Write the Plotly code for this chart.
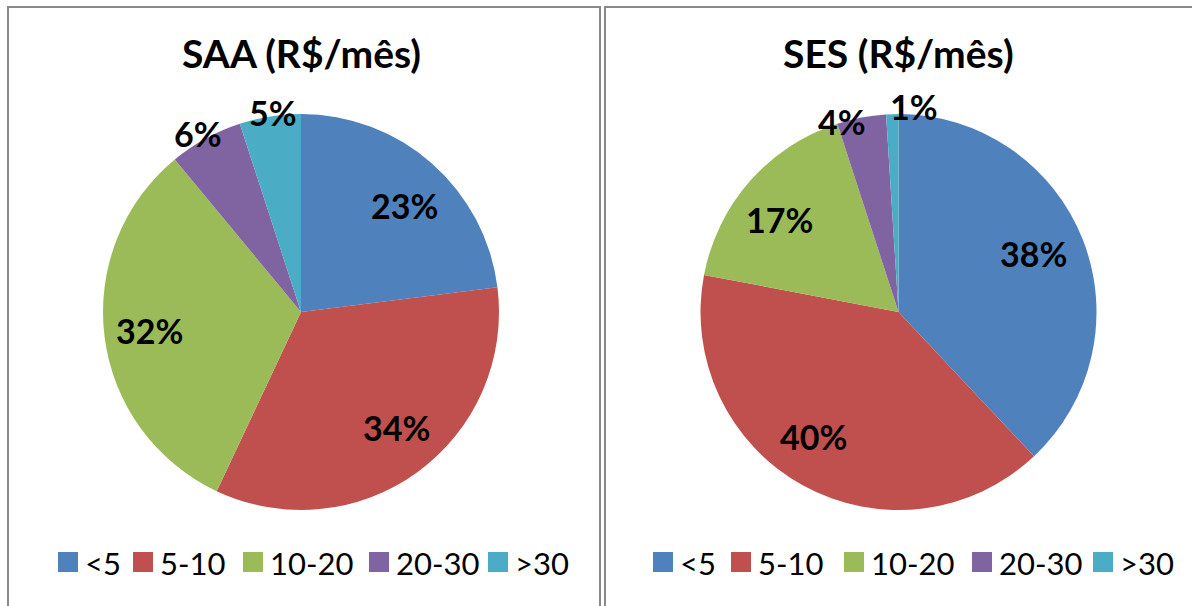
import math
import plotly.graph_objects as go

# Monthly spend brackets (R$/mês) and share of households per bracket
categories = ["<5", "5-10", "10-20", "20-30", ">30"]
saa_share = [23, 34, 32, 6, 5]
ses_share = [38, 40, 17, 4, 1]
panel_titles = ["SAA (R$/mês)", "SES (R$/mês)"]

colors = ["#4F81BD", "#C0504D", "#9BBB59", "#8064A2", "#4BACC6"]

W, H = 1192, 606
FONT = "Lato"


def px(x):
    return x / W


def py(y):
    return 1 - y / H


# panel geometry in pixels: pie centre, radius, frame extents
panels = [
    dict(values=saa_share, title=panel_titles[0], cx=301, cy=312, r=198,
         frame=(8, 7, 600, 620), legend_x=58,
         nudge=[(5, 5), (8, -5), (-4, 0), (-4, 2), (4, 4)]),
    dict(values=ses_share, title=panel_titles[1], cx=898.5, cy=312, r=198,
         frame=(605, 7, 1205, 620), legend_x=653,
         nudge=[(-3, -4), (-13, -6), (-8, 6), (-18, 12), (22, 0)]),
]

# legend item offsets from the first swatch, per panel
legend_offsets = [[0, 75, 185, 311, 430], [0, 78, 191, 319, 440]]
SWATCH = 20
LEGEND_Y = 562

fig = go.Figure()
shapes = []
annotations = []

for i, p in enumerate(panels):
    cx, cy, r = p["cx"], p["cy"], p["r"]
    fig.add_trace(go.Pie(
        labels=categories,
        values=p["values"],
        sort=False,
        direction="clockwise",
        rotation=0,
        textinfo="none",
        hoverinfo="label+percent",
        marker=dict(colors=colors, line=dict(width=0)),
        domain=dict(x=[px(cx - r), px(cx + r)], y=[py(cy + r), py(cy - r)]),
        showlegend=False,
    ))

    # frame around each chart
    x0, y0, x1, y1 = p["frame"]
    shapes.append(dict(type="rect", xref="paper", yref="paper",
                       x0=px(x0), y0=py(y1), x1=px(x1), y1=py(y0),
                       line=dict(color="#898989", width=2), fillcolor="rgba(0,0,0,0)"))

    # title
    annotations.append(dict(text=f"<b>{p['title']}</b>", xref="paper", yref="paper",
                            x=px(cx), y=py(53), showarrow=False,
                            xanchor="center", yanchor="middle",
                            font=dict(family=FONT, size=39, color="#000000")))

    # percentage labels placed along each slice's bisector
    total = sum(p["values"])
    cum = 0
    for k, v in enumerate(p["values"]):
        mid = (cum + v / 2) / total * 2 * math.pi
        cum += v
        rf = 0.75 if v / total >= 0.10 else 1.04
        lx = cx + rf * r * math.sin(mid) + p["nudge"][k][0]
        ly = cy - rf * r * math.cos(mid) + p["nudge"][k][1]
        annotations.append(dict(text=f"<b>{round(v / total * 100)}%</b>",
                                xref="paper", yref="paper", x=px(lx), y=py(ly),
                                showarrow=False, xanchor="center", yanchor="middle",
                                font=dict(family=FONT, size=34, color="#000000")))

    # legend: colour swatch + category text
    for k, cat in enumerate(categories):
        sx = p["legend_x"] + legend_offsets[i][k]
        shapes.append(dict(type="rect", xref="paper", yref="paper",
                           x0=px(sx), x1=px(sx + SWATCH),
                           y0=py(LEGEND_Y + SWATCH / 2), y1=py(LEGEND_Y - SWATCH / 2),
                           line=dict(width=0), fillcolor=colors[k]))
        annotations.append(dict(text=cat, xref="paper", yref="paper",
                                x=px(sx + SWATCH + 5), y=py(LEGEND_Y + 1),
                                showarrow=False, xanchor="left", yanchor="middle",
                                font=dict(family=FONT, size=31, color="#000000")))

fig.update_layout(
    width=W, height=H,
    margin=dict(l=0, r=0, t=0, b=0),
    paper_bgcolor="white", plot_bgcolor="white",
    shapes=shapes, annotations=annotations,
    showlegend=False,
)

fig.write_html("out.html")
